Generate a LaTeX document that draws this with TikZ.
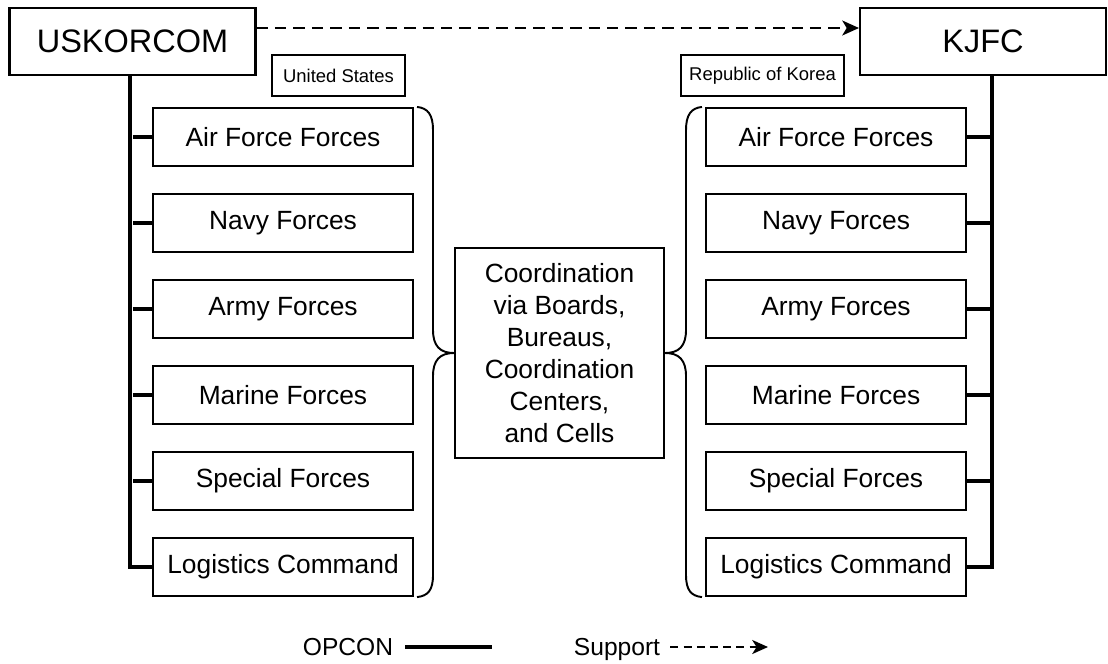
\documentclass[tikz,border=0pt]{standalone}
\usepackage{fontspec}
\setmainfont{Liberation Sans}
\usetikzlibrary{arrows.meta}

\tikzset{
  cmdbox/.style={draw,line width=1.2pt,minimum width=4.92cm,minimum height=1.34cm,
    inner sep=0pt,font=\fontsize{18.5}{22}\selectfont},
  unitbox/.style={draw,line width=1.2pt,minimum width=5.2cm,minimum height=1.16cm,
    inner sep=0pt,font=\fontsize{15}{18}\selectfont},
  nationbox/.style={draw,line width=1.1pt,minimum height=0.82cm,
    inner sep=0pt,font=\fontsize{10.5}{12}\selectfont},
  legendlbl/.style={anchor=base,inner sep=0pt,font=\fontsize{14}{16}\selectfont},
  opcon/.style={line width=2.6pt},
  support/.style={line width=1.1pt,dash pattern=on 6.5pt off 4pt,
    -{Stealth[length=9.5pt,width=8.5pt,inset=2.5pt]}}
}

\begin{document}
\begin{tikzpicture}[x=0.02cm,y=-0.02cm]
  \useasboundingbox (0,0) rectangle (1108,663);

  \node[cmdbox] (usk) at (132.5,41.5) {USKORCOM};
  \node[cmdbox] (kjfc) at (983,41.5) {KJFC};
  \node[nationbox,minimum width=2.66cm] (us) at (338.5,75.5) {United States};
  \node[nationbox,minimum width=3.26cm] (rok) at (762.5,75.5) {Republic of Korea};

  \foreach \name/\txt/\y in {1/Air Force Forces/137,2/Navy Forces/223,
      3/Army Forces/309,4/Marine Forces/395,5/Special Forces/481,
      6/Logistics Command/567}{
    \node[unitbox] (l\name) at (283,\y) {\txt};
    \node[unitbox] (r\name) at (836,\y) {\txt};
  }

  \node[draw,line width=1.2pt,minimum width=4.18cm,minimum height=4.2cm,
        align=center,inner sep=0pt,font=\fontsize{15}{18.2}\selectfont]
    (coord) at (559.5,353)
    {Coordination\\via Boards,\\Bureaus,\\Coordination\\Centers,\\and Cells};

  % OPCON lines
  \draw[opcon] ([xshift=-0.05cm]usk.south) |- (l6.west);
  \foreach \i in {1,...,5}
    \draw[opcon] (l\i.west) -- (l\i.west -| usk.south) ++(-2.5,0);
  \draw[opcon] ([xshift=0.18cm]kjfc.south) |- (r6.east);
  \foreach \i in {1,...,5}
    \draw[opcon] (r\i.east) -- ++(26,0);

  % braces
  \draw[line width=1.1pt] ([xshift=0.06cm]l1.north east)
    .. controls (428,108) and (433,115) .. (433,130) -- (433,330)
    .. controls (433,346) and (440,353) .. (coord.west)
    .. controls (440,353) and (433,360) .. (433,376) -- (433,575)
    .. controls (433,590) and (428,596) .. ([xshift=0.06cm]l6.south east);
  \draw[line width=1.1pt] ([xshift=-0.06cm]r1.north west)
    .. controls (691,108) and (686,115) .. (686,130) -- (686,330)
    .. controls (686,346) and (679,353) .. (coord.east)
    .. controls (679,353) and (686,360) .. (686,376) -- (686,575)
    .. controls (686,590) and (691,596) .. ([xshift=-0.06cm]r6.south west);

  % support
  \draw[support] ([yshift=0.27cm]usk.east) -- ([yshift=0.27cm]kjfc.west);

  % legend
  \node[legendlbl] (opconlbl) at (348,655) {OPCON};
  \coordinate (opconend) at (492,647);
  \draw[line width=2.8pt] (opconlbl.east |- opconend) ++(12,0) -- (opconend);
  \node[legendlbl] (supportlbl) at (617,655) {Support};
  \coordinate (supportend) at (768,647);
  \draw[line width=1.1pt,dash pattern=on 4.5pt off 3pt,
        -{Stealth[length=9pt,width=8pt,inset=2.5pt]}]
    (supportlbl.east |- supportend) ++(10,0) -- (supportend);
\end{tikzpicture}
\end{document}
